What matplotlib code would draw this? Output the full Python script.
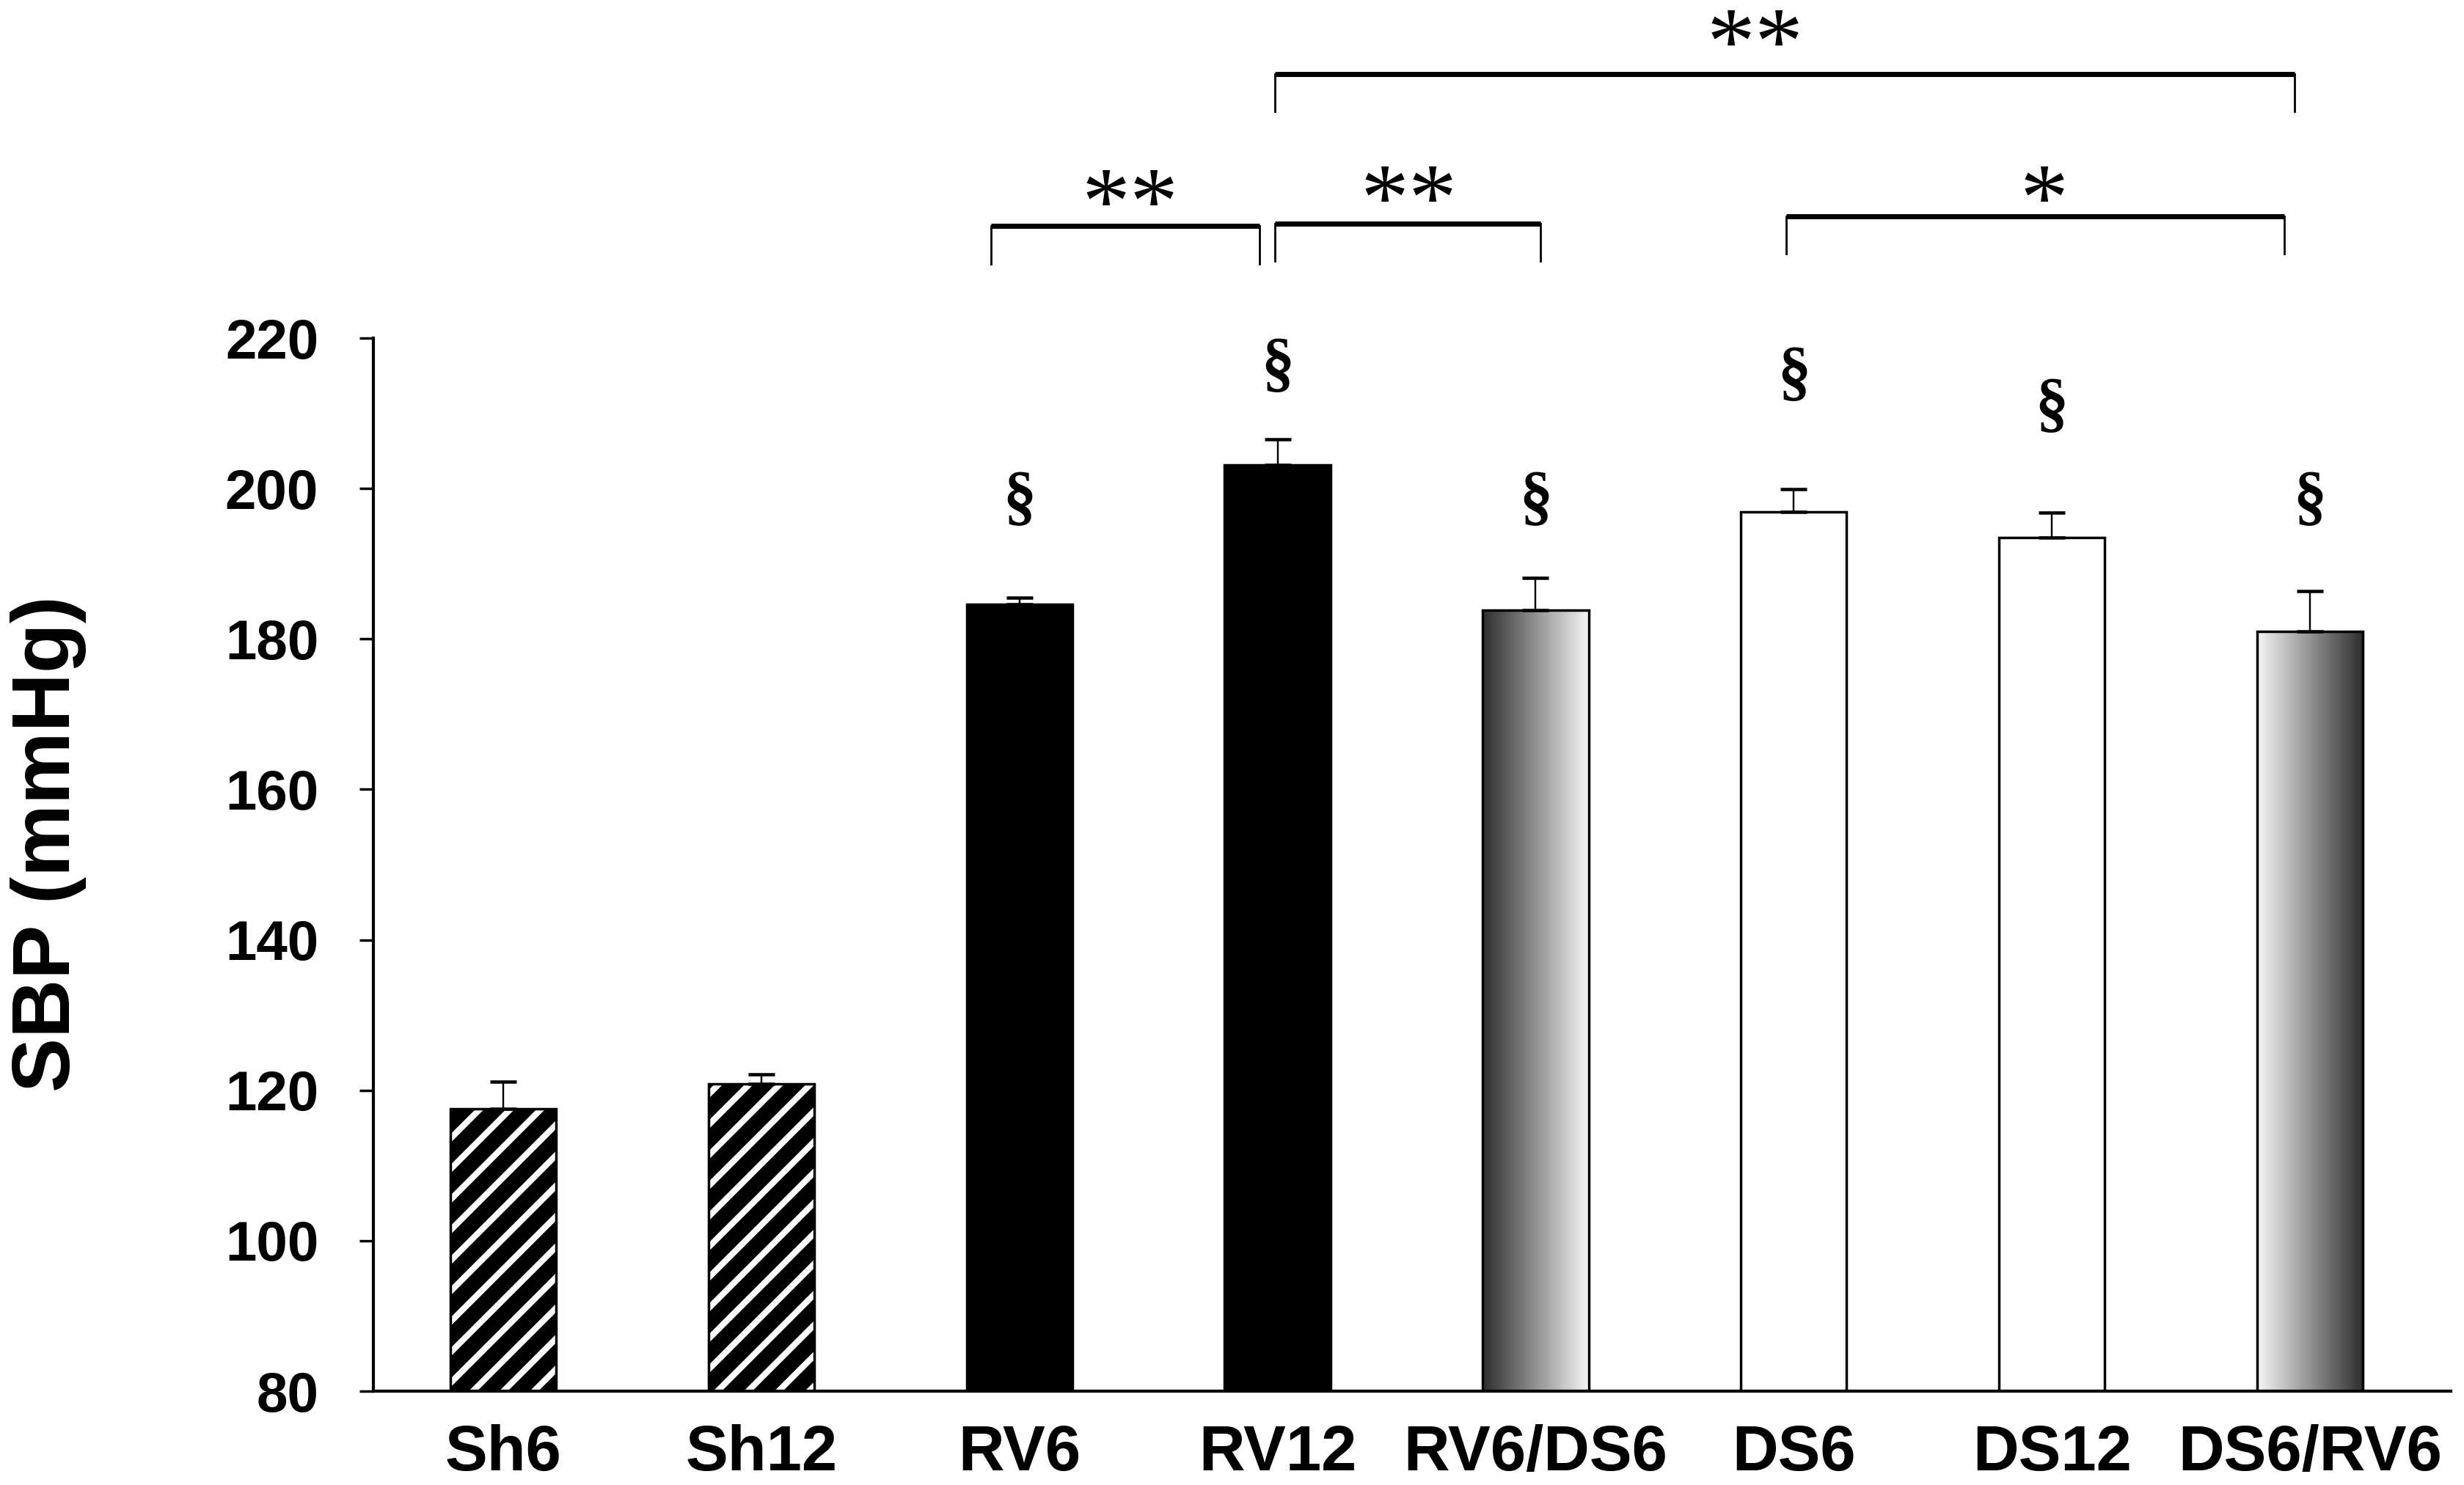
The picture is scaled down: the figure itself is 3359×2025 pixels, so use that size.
import numpy as np
import matplotlib.pyplot as plt

plt.rcParams['font.family'] = ['Liberation Sans', 'DejaVu Sans']
plt.rcParams['hatch.linewidth'] = 2.4
plt.rcParams['hatch.color'] = 'white'

# datos
grupos = ["Sh6", "Sh12", "RV6", "RV12", "RV6/DS6", "DS6", "DS12", "DS6/RV6"]
sbp = [117.5, 120.9, 184.6, 203.1, 183.8, 196.9, 193.5, 181.0]
sem = [3.6, 1.2, 0.9, 3.5, 4.3, 3.0, 3.3, 5.4]
relleno = ["rayas", "rayas", "negro", "negro", "grad_izq", "blanco", "blanco", "grad_der"]
seccion_y = [None, None, 198.5, 216.2, 198.5, 215.1, 210.9, 198.5]

# corchetes de significancia: x inicio, x fin, altura, x del texto, y del texto, texto
corchetes = [
    (1.89, 2.93, 234.9, 2.43, 240.4, "**"),
    (2.99, 4.02, 235.2, 3.51, 240.9, "**"),
    (4.97, 6.90, 236.2, 5.97, 240.9, "*"),
    (2.99, 6.94, 255.1, 4.85, 261.6, "**"),
]

fig = plt.figure(figsize=(3359 / 250, 2025 / 250), dpi=250)
ax = fig.add_axes([0.1515, 0.0632, 0.8431, 0.7091])

x = np.arange(len(grupos))
ancho = 0.41
ymin, ymax = 80, 220

# barras base (rayas / negro / blanco)
caras = []
for r in relleno:
    if r in ("rayas", "negro"):
        caras.append("black")
    else:
        caras.append("white")
base = ax.bar(x, sbp, width=ancho, color=caras, linewidth=0, zorder=2)
for p, r in zip(base, relleno):
    if r == "rayas":
        p.set_hatch("//")
        p.set_edgecolor("white")

# degradados
for p, r in zip(base, relleno):
    if r.startswith("grad"):
        grad = np.linspace(0.18, 0.96, 256).reshape(1, -1)
        if r == "grad_der":
            grad = grad[:, ::-1]
        im = ax.imshow(grad, cmap="gray", vmin=0, vmax=1, aspect="auto",
                       extent=[p.get_x(), p.get_x() + p.get_width(), ymin, p.get_height()],
                       zorder=2.5)
        im.set_clip_path(p)

# contorno
ax.bar(x, sbp, width=ancho, fill=False, edgecolor="black", linewidth=1.0, zorder=3)

# barras de error (solo hacia arriba)
ax.errorbar(x, sbp, yerr=[np.zeros(len(sem)), sem], fmt="none", ecolor="black",
            elinewidth=0.7, capsize=5.2, capthick=1.3, zorder=4)

# simbolos §
tam_sec = 26
for xi, yi in zip(x, seccion_y):
    if yi is not None:
        ax.annotate("§", (xi, yi), xytext=(0, -0.27 * tam_sec), textcoords="offset points",
                    ha="center", va="baseline", fontsize=tam_sec, fontweight="bold",
                    family="Liberation Serif", zorder=5)

# corchetes
tam_ast = 38
for x0, x1, h, xt, yt, txt in corchetes:
    ax.plot([x0, x1], [h, h], color="black", linewidth=2.0, clip_on=False,
            solid_capstyle="butt")
    ax.plot([x0, x0], [h, h - 5], color="black", linewidth=0.8, clip_on=False)
    ax.plot([x1, x1], [h, h - 5], color="black", linewidth=0.8, clip_on=False)
    ax.annotate(txt, (xt, yt), xytext=(0, -0.5 * tam_ast), textcoords="offset points",
                ha="center", va="baseline", fontsize=tam_ast,
                family="Liberation Serif", annotation_clip=False)

ax.set_xlim(-0.503, 7.545)
ax.set_ylim(ymin, ymax)
ax.set_yticks(np.arange(80, 221, 20))
ax.set_xticks(x)
ax.set_xticklabels(grupos, fontsize=25, fontweight="bold")
for lab in ax.get_yticklabels():
    lab.set_fontsize(22)
    lab.set_fontweight("bold")

ax.tick_params(axis="x", length=0, pad=13)
ax.tick_params(axis="y", direction="out", length=5.5, width=1.0, pad=16)

ax.spines["top"].set_visible(False)
ax.spines["right"].set_visible(False)
ax.spines["left"].set_linewidth(1.2)
ax.spines["bottom"].set_linewidth(1.2)

ax.set_ylabel("SBP (mmHg)", fontsize=32, fontweight="bold")
ax.yaxis.set_label_coords(-0.138, 0.52)

fig.savefig("out.png", dpi=250, facecolor="white")
